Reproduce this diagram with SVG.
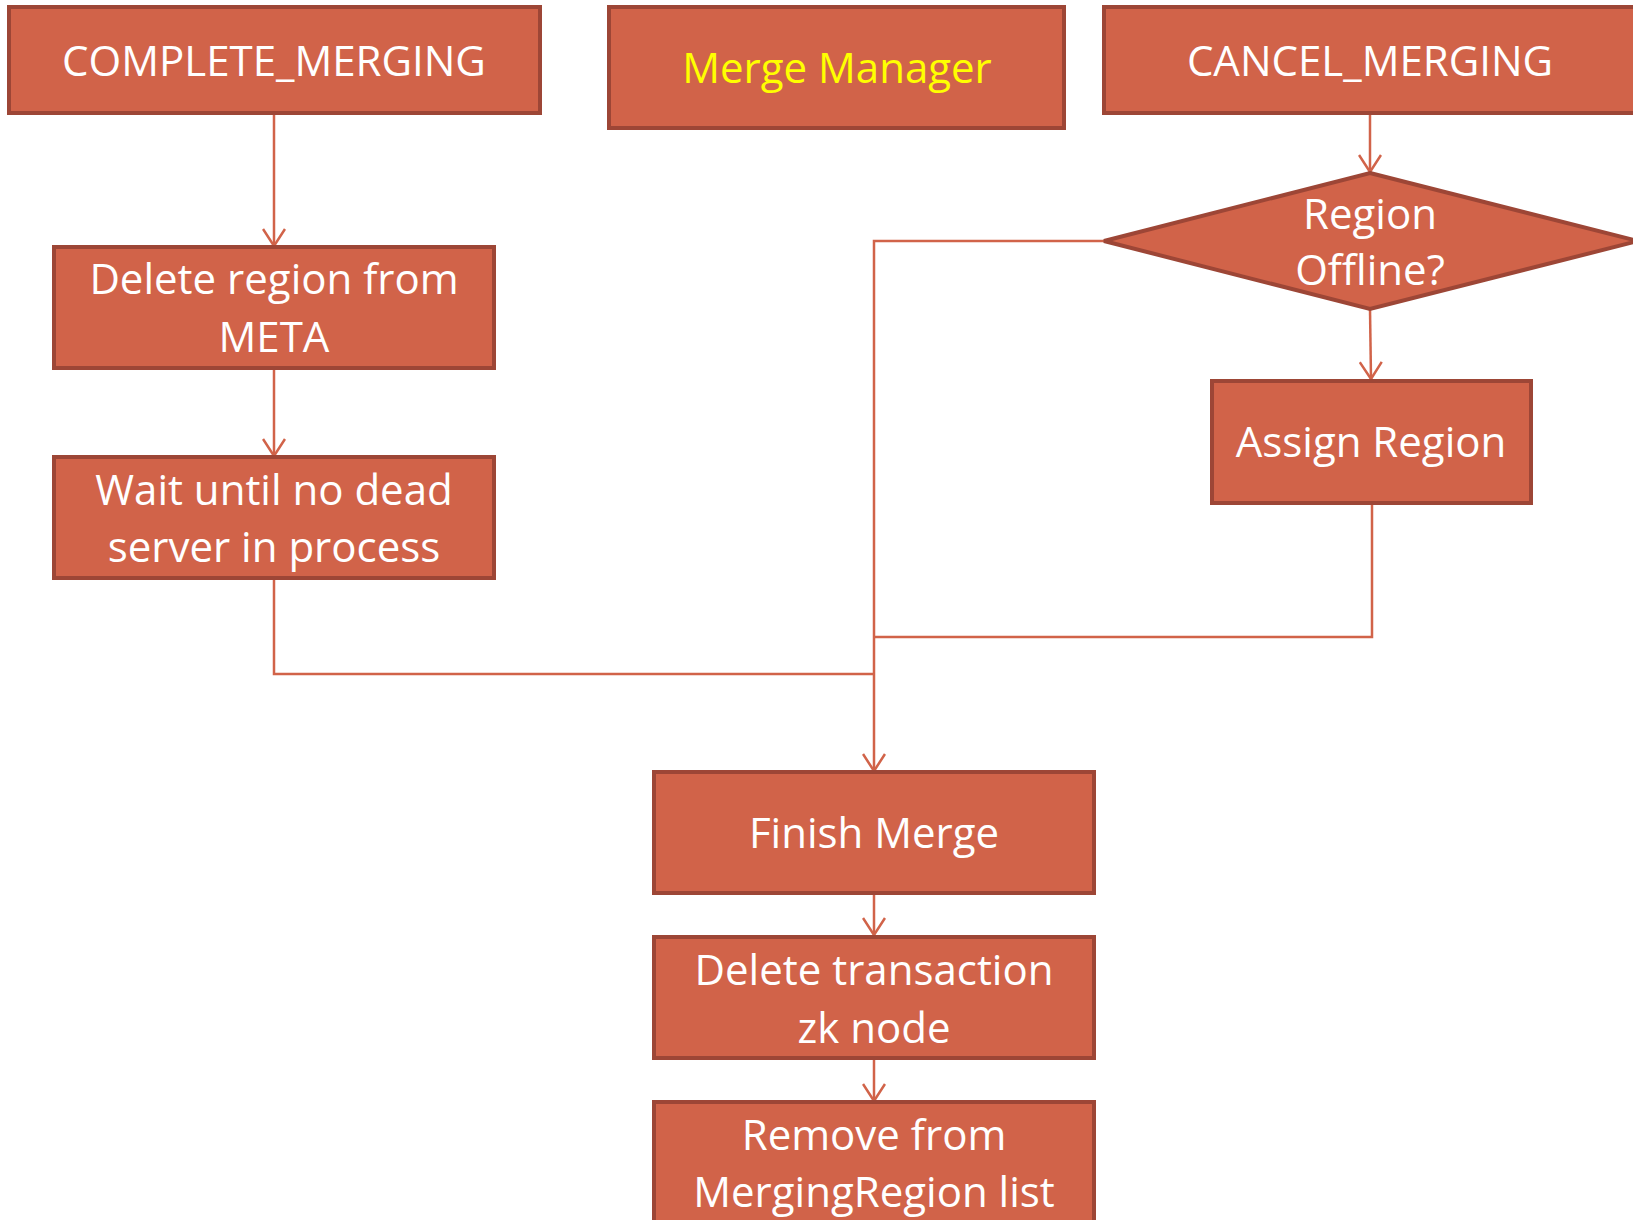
<svg xmlns="http://www.w3.org/2000/svg" width="1633" height="1220" viewBox="0 0 1633 1220">
<style>
.box{fill:#D16349;stroke:#9D4636;stroke-width:4;}
.t{font-family:"Open Sans","Liberation Sans",sans-serif;font-size:42px;fill:#FFFFFF;text-anchor:middle;}
.y{fill:#FFFF00;}
.c{fill:none;stroke:#D16349;stroke-width:2.5;}
</style>
<defs>
<marker id="arr" viewBox="0 0 20 24" refX="18" refY="12" markerWidth="20" markerHeight="24" markerUnits="userSpaceOnUse" orient="auto">
<path d="M1,1 L18,12 L1,23" fill="none" stroke="#D16349" stroke-width="2.5"/>
</marker>
</defs>
<rect width="1633" height="1220" fill="#FFFFFF"/>
<g id="connectors">
<path class="c" d="M274,113 V246" marker-end="url(#arr)"/>
<path class="c" d="M274,368 V456" marker-end="url(#arr)"/>
<path class="c" d="M274,578 V674 H874"/>
<path class="c" d="M1104,241 H874 V771" marker-end="url(#arr)"/>
<path class="c" d="M1372,503 V637 H874"/>
<path class="c" d="M1370,113 V172" marker-end="url(#arr)"/>
<path class="c" d="M1370,309 L1371,379" marker-end="url(#arr)"/>
<path class="c" d="M874,893 V935" marker-end="url(#arr)"/>
<path class="c" d="M874,1058 V1101" marker-end="url(#arr)"/>
</g>
<g id="complete_merging">
<rect class="box" x="9" y="7" width="531" height="106"/>
<text class="t" x="274" y="76">COMPLETE_MERGING</text>
</g>
<g id="merge_manager">
<rect class="box" x="609" y="7" width="455" height="121"/>
<text class="t y" x="837" y="83">Merge Manager</text>
</g>
<g id="cancel_merging">
<rect class="box" x="1104" y="7" width="540" height="106"/>
<text class="t" x="1370" y="76">CANCEL_MERGING</text>
</g>
<g id="region_offline">
<polygon class="box" points="1370,173 1638,241 1370,309 1104,241"/>
<text class="t" x="1370" y="229">Region</text>
<text class="t" x="1370" y="285">Offline?</text>
</g>
<g id="delete_region">
<rect class="box" x="54" y="247" width="440" height="121"/>
<text class="t" x="274" y="294">Delete region from</text>
<text class="t" x="274" y="352">META</text>
</g>
<g id="wait_dead">
<rect class="box" x="54" y="457" width="440" height="121"/>
<text class="t" x="274" y="505">Wait until no dead</text>
<text class="t" x="274" y="562">server in process</text>
</g>
<g id="assign_region">
<rect class="box" x="1212" y="381" width="319" height="122"/>
<text class="t" x="1371" y="457">Assign Region</text>
</g>
<g id="finish_merge">
<rect class="box" x="654" y="772" width="440" height="121"/>
<text class="t" x="874" y="848">Finish Merge</text>
</g>
<g id="delete_transaction">
<rect class="box" x="654" y="937" width="440" height="121"/>
<text class="t" x="874" y="985">Delete transaction</text>
<text class="t" x="874" y="1043">zk node</text>
</g>
<g id="remove_list">
<rect class="box" x="654" y="1102" width="440" height="130"/>
<text class="t" x="874" y="1150">Remove from</text>
<text class="t" x="874" y="1207">MergingRegion list</text>
</g>
</svg>
